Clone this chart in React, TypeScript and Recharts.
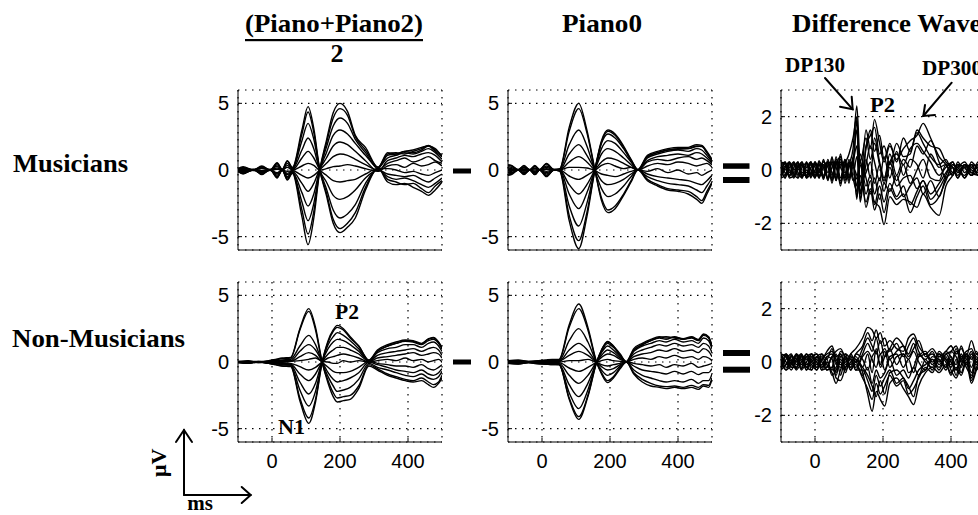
import React from 'react';
import { LineChart, Line, XAxis, YAxis, CartesianGrid } from 'recharts';

// Butterfly plots: 12 channels per panel, times in ms, values in µV

// Musicians, (Piano+Piano2)/2
const musAvgTime = [-100, -85, -55, -30, -5, 15, 30, 45, 60, 88, 106, 123, 140, 160, 180, 200, 222, 245, 275, 312, 340, 365, 390, 415, 440, 460, 480, 500];
const musAvgTraces = [
  [0.1, 0.25, 0, 0.3, 0, 0.55, 0.05, 0.7, 0.2, 3.0, 4.75, 3.1, 0.1, -1.9, -4.0, -4.7, -4.3, -3.6, -1.5, 0.15, -0.9, -1.1, -1.0, -1.3, -1.6, -1.9, -1.5, -0.9],
  [0.05, 0.2, -0.05, 0.25, 0, 0.5, 0, 0.65, 0.15, 2.7, 4.35, 2.8, 0.05, -1.7, -3.7, -4.4, -4.0, -3.2, -1.3, 0.1, -0.7, -0.9, -1.1, -1.0, -1.4, -1.7, -1.2, -0.8],
  [0.08, 0.15, 0.05, 0.2, -0.05, 0.4, 0.05, 0.5, 0.1, 2.2, 3.5, 2.3, 0.1, -1.4, -3.0, -3.6, -3.3, -2.6, -1.0, 0.05, -0.5, -0.7, -0.6, -0.8, -1.1, -1.3, -1.0, -0.6],
  [0, 0.1, 0, 0.15, 0, 0.3, -0.05, 0.35, 0.05, 1.5, 2.4, 1.6, 0, -0.9, -1.9, -2.2, -2.0, -1.5, -0.6, 0, -0.3, -0.4, -0.5, -0.4, -0.7, -0.9, -0.6, -0.3],
  [-0.05, 0.05, 0, 0.1, 0.05, 0.15, 0, 0.2, 0, 0.9, 1.4, 0.9, 0.05, -0.4, -0.8, -0.9, -0.8, -0.7, -0.3, 0.1, 0.1, 0, -0.2, -0.1, -0.3, -0.4, -0.2, 0],
  [0, -0.05, 0, -0.05, 0, 0.05, 0, -0.1, -0.05, 0.3, 0.5, 0.35, 0, 0.1, 0.25, 0.3, 0.4, 0.3, 0.1, -0.1, 0.3, 0.4, 0.2, 0.5, 0.3, 0.4, 0.6, 0.3],
  [-0.05, -0.1, 0, -0.1, 0, -0.2, 0, -0.25, -0.05, -0.4, -0.6, -0.4, 0, 0.5, 1.0, 1.2, 1.1, 0.8, 0.4, 0, 0.5, 0.7, 0.9, 0.6, 0.8, 1.0, 0.7, 0.5],
  [-0.08, -0.15, 0.05, -0.15, 0, -0.3, 0.05, -0.35, -0.1, -1.0, -1.6, -1.0, 0.05, 0.9, 1.8, 2.1, 1.9, 1.4, 0.7, -0.1, 0.7, 0.9, 1.1, 1.0, 1.2, 1.3, 1.1, 0.6],
  [-0.1, -0.2, 0, -0.2, 0.05, -0.4, 0, -0.5, -0.15, -1.7, -2.7, -1.8, 0, 1.3, 2.6, 3.0, 2.7, 2.0, 1.1, 0.2, 0.9, 1.1, 1.3, 1.2, 1.4, 1.6, 1.3, 0.8],
  [-0.05, -0.25, 0, -0.25, 0, -0.5, -0.05, -0.6, -0.2, -2.4, -3.8, -2.5, -0.05, 1.7, 3.3, 3.9, 3.5, 2.3, 1.3, 0.1, 1.1, 1.2, 1.4, 1.3, 1.5, 1.8, 1.4, 1.0],
  [-0.1, -0.25, 0, -0.3, 0, -0.55, 0, -0.7, -0.2, -3.0, -4.8, -3.1, -0.1, 2.0, 3.9, 4.6, 4.1, 2.5, 1.5, 0.2, 1.2, 1.3, 1.2, 1.4, 1.6, 1.85, 1.5, 1.1],
  [-0.1, -0.3, 0.05, -0.35, 0.05, -0.6, 0.05, -0.75, -0.25, -3.5, -5.6, -3.6, -0.1, 2.2, 4.3, 5.0, 4.4, 2.6, 1.7, 0.2, 1.3, 1.2, 1.4, 1.5, 1.7, 1.8, 1.6, 1.0],
];

// Musicians, Piano0
const musP0Time = [-100, -90, -70, -53, -36, -21, -7, 13, 35, 52, 80, 108, 132, 155, 175, 194, 215, 240, 262, 282, 310, 340, 370, 400, 430, 455, 470, 485, 500];
const musP0Traces = [
  [0.4, 0.35, 0, 0.35, 0, 0.35, 0, 0.5, 0.05, 0.1, 3.2, 5.0, 3.0, 0.1, -2.3, -3.2, -2.9, -1.9, -0.9, 0, -0.8, -1.2, -1.5, -1.6, -1.8, -2.2, -2.5, -1.8, -1.0],
  [0.35, 0.3, 0.05, 0.3, 0, 0.3, 0.05, 0.45, 0, 0.05, 2.9, 4.6, 2.8, 0.05, -2.1, -3.0, -2.7, -1.8, -0.8, 0.05, -0.7, -1.1, -1.4, -1.5, -1.6, -2.0, -2.3, -1.6, -0.9],
  [0.25, 0.2, 0, 0.2, 0.05, 0.25, 0, 0.3, 0.05, 0.05, 1.9, 3.0, 1.8, 0, -1.4, -2.0, -1.8, -1.2, -0.5, 0, -0.5, -0.8, -1.0, -1.1, -1.2, -1.5, -1.7, -1.2, -0.6],
  [0.15, 0.1, 0, 0.15, 0, 0.15, 0, 0.2, 0, 0, 1.2, 1.9, 1.1, 0.05, -0.8, -1.1, -1.0, -0.7, -0.3, 0, -0.3, -0.5, -0.6, -0.7, -0.8, -1.0, -1.1, -0.8, -0.4],
  [0.05, 0.05, 0, 0.05, 0, 0.1, 0, 0.1, 0, 0, 0.6, 1.0, 0.6, 0, -0.3, -0.4, -0.5, -0.3, -0.1, 0, -0.1, 0.1, -0.2, 0, -0.3, -0.2, -0.4, -0.2, 0],
  [0, 0, 0, 0, 0, 0, 0, 0.05, 0, 0, 0.2, 0.2, 0.15, 0, 0.35, 0.5, 0.3, 0.1, 0.2, 0, 0.3, 0.5, 0.4, 0.6, 0.5, 0.3, 0.4, 0.5, 0.2],
  [-0.05, -0.05, 0, -0.05, 0, -0.1, 0, -0.1, 0, 0, -0.45, -0.7, -0.4, 0, 0.6, 0.9, 0.8, 0.5, 0.2, 0, 0.6, 0.8, 0.7, 0.9, 1.0, 0.8, 0.9, 0.7, 0.4],
  [-0.15, -0.1, 0, -0.1, 0, -0.15, 0, -0.2, 0, 0, -1.1, -1.8, -1.1, 0, 1.2, 1.6, 1.4, 0.9, 0.4, 0, 0.7, 1.0, 1.1, 1.2, 1.1, 1.3, 1.2, 0.9, 0.5],
  [-0.2, -0.2, 0, -0.2, 0, -0.2, 0, -0.3, 0, 0, -1.8, -2.9, -1.7, 0, 1.6, 2.2, 2.0, 1.3, 0.6, 0, 0.9, 1.2, 1.4, 1.5, 1.4, 1.6, 1.5, 1.1, 0.6],
  [-0.3, -0.25, 0, -0.25, 0, -0.3, 0, -0.4, 0, -0.05, -2.7, -4.2, -2.5, -0.05, 2.0, 2.7, 2.4, 1.6, 0.7, 0, 1.0, 1.3, 1.5, 1.6, 1.6, 1.8, 1.75, 1.3, 0.7],
  [-0.35, -0.3, 0, -0.3, 0, -0.35, 0, -0.45, 0, -0.05, -3.4, -5.3, -3.2, -0.05, 2.2, 3.0, 2.7, 1.8, 0.8, 0.05, 1.1, 1.4, 1.6, 1.7, 1.7, 1.9, 1.85, 1.4, 0.8],
  [-0.4, -0.35, 0, -0.35, 0, -0.35, 0, -0.5, 0, -0.1, -3.8, -5.9, -3.5, -0.1, 2.1, 2.9, 2.6, 1.7, 0.75, 0, 1.0, 1.3, 1.5, 1.55, 1.6, 1.75, 1.8, 1.3, 0.75],
];

// Musicians, difference wave
const musDiffTime = [-100, -88, -75, -62, -50, -38, -25, -12, 0, 12, 25, 38, 50, 62, 75, 88, 100, 112, 123, 133, 150, 163, 175, 190, 203, 220, 240, 260, 280, 300, 318, 340, 365, 385, 405, 420, 440, 460, 480, 500];
const musDiffTraces = [
  [0.3, -0.2, 0.25, -0.1, 0.3, -0.2, 0.2, -0.3, 0.3, -0.25, 0.4, -0.3, 0.5, -0.4, 0.6, -0.3, 0.2, 0.8, 2.4, 0.3, 1.2, 0.4, 1.0, 0.2, -0.5, 0.3, 0.6, 0.2, 0.8, 1.0, 0.7, 0.3, -0.2, 0.1, 0.3, -0.1, 0.2, -0.2, 0.3, 0],
  [-0.2, 0.3, -0.1, 0.25, -0.3, 0.2, -0.25, 0.3, -0.2, 0.35, -0.3, 0.4, -0.2, 0.3, -0.5, 0.2, 0.6, 1.2, 2.0, -0.6, 1.5, 0.8, 1.9, 1.0, 0.3, 0.9, 0.4, 0.8, 1.1, 1.3, 1.75, 1.2, 0.5, 0.2, -0.2, 0.3, -0.1, 0.2, -0.2, 0.1],
  [0.1, -0.3, 0.2, -0.25, 0.15, -0.3, 0.3, -0.15, 0.25, -0.3, 0.2, -0.4, 0.45, -0.2, 0.5, -0.5, 0.1, 0.4, 1.5, -1.1, 0.9, 1.3, 1.6, 0.6, 0.9, 0.2, 1.0, 0.5, 0.6, 1.5, 1.2, 0.9, 0.8, 0.3, 0.1, -0.3, 0.2, 0.1, -0.1, 0.2],
  [-0.3, 0.15, -0.25, 0.3, -0.2, 0.25, -0.1, 0.2, -0.3, 0.2, -0.35, 0.3, -0.4, 0.5, -0.3, 0.4, -0.2, 0.3, 0.9, -1.2, 0.4, -0.3, 1.2, 0.3, -0.4, 0.6, -0.2, 0.4, 0.1, 0.9, 0.6, 1.1, 0.3, -0.3, 0.2, 0.1, -0.3, 0.3, 0, -0.1],
  [0.2, 0, 0.3, -0.2, 0.1, 0.3, -0.3, 0.1, 0.2, -0.1, 0.3, 0.1, -0.3, 0.4, 0.1, -0.2, 0.3, -0.2, 0.5, -0.8, 0.2, 0.9, 0.3, -0.4, 0.5, -0.3, 0.7, -0.2, 0.4, 0.2, -0.3, 0.6, 0.1, 0.2, -0.2, 0.2, 0.1, -0.2, 0.2, -0.1],
  [-0.1, 0.25, 0, -0.3, 0.2, -0.1, 0.1, 0.3, -0.1, 0.2, -0.2, 0.3, 0.2, -0.3, 0.2, 0.3, -0.3, 0.1, -0.2, -0.5, -0.1, 0.3, -0.5, 0.2, -0.3, 0.3, -0.4, 0.2, -0.5, 0, 0.4, -0.3, -0.4, 0.2, 0.1, -0.2, 0.2, 0, -0.1, 0.1],
  [0.25, -0.1, -0.2, 0.1, 0.3, -0.25, 0, -0.2, 0.3, 0, -0.25, 0.2, -0.1, -0.3, 0.4, -0.1, 0.2, -0.4, -0.3, 0.3, -0.6, -0.2, -0.9, -0.3, -0.8, 0.1, -0.6, -0.3, -0.2, -0.7, -0.4, -0.9, -0.5, -0.1, 0.2, 0, -0.2, 0.2, 0.1, -0.1],
  [-0.25, 0.1, 0.3, -0.15, -0.3, 0.1, 0.25, 0, -0.3, 0.3, 0.1, -0.3, 0.3, 0.1, -0.4, 0.2, -0.4, 0.2, -0.6, 0.6, -0.3, -0.9, -0.3, -1.1, -0.5, -0.8, -0.2, -1.0, -0.6, -0.3, -0.9, -0.4, -1.0, -0.3, -0.1, 0.2, 0.1, -0.2, 0, 0.2],
  [0.15, 0.3, -0.2, 0.2, 0, 0.3, -0.2, 0.25, 0.1, -0.3, 0.35, -0.1, 0.3, -0.4, 0.3, -0.3, 0.4, -0.3, -0.8, 0.2, -0.9, -0.4, -1.3, -0.6, -1.2, -0.5, -1.0, -0.6, -1.3, -0.8, -0.4, -1.1, -0.7, -0.2, 0.3, -0.1, 0.1, 0.2, -0.2, 0],
  [-0.3, -0.2, 0.1, 0.3, -0.1, -0.3, 0.3, -0.25, 0, 0.25, -0.3, 0.3, -0.5, 0.3, -0.5, 0.4, -0.3, 0.4, -1.0, -0.2, -1.2, -0.7, -1.5, -0.9, -1.6, -0.7, -1.1, -0.9, -1.6, -1.0, -0.6, -1.3, -1.0, -0.4, 0.1, -0.3, 0.2, -0.1, 0.1, -0.2],
  [0, -0.3, 0.25, 0, 0.25, -0.2, -0.2, 0.3, -0.25, 0, 0.2, -0.35, 0.1, 0.35, -0.6, 0.3, -0.5, 0.5, -1.1, 0.4, -1.4, -0.8, -1.2, -1.4, -2.05, -1.0, -1.3, -1.1, -1.2, -1.4, -0.9, -1.4, -1.7, -0.6, -0.2, 0.2, -0.3, 0.1, 0.2, -0.1],
  [0.3, 0.2, -0.3, -0.2, 0.1, 0.2, -0.3, -0.1, 0.3, -0.2, 0.1, 0.3, -0.4, 0.2, 0.5, -0.4, 0.3, 0.2, 1.9, -0.9, 0.8, 1.5, 0.7, 1.3, 0.4, 1.0, 0.3, 1.2, 0.7, 1.4, 1.0, 0.5, 0.2, 0.4, -0.1, 0.1, 0.3, -0.1, -0.2, 0.1],
];

// Non-Musicians, (Piano+Piano2)/2
const nonAvgTime = [-100, -70, -40, -10, 10, 30, 55, 82, 108, 128, 147, 165, 180, 192, 210, 230, 255, 285, 310, 340, 365, 392, 415, 440, 460, 475, 490, 500];
const nonAvgTraces = [
  [0.05, 0.1, -0.05, 0.1, 0.2, 0.3, 0.35, 2.5, 4.0, 2.6, 0.05, -1.6, -2.6, -3.0, -2.9, -2.8, -2.0, -0.3, -0.6, -1.0, -1.2, -1.4, -1.5, -1.4, -1.7, -1.9, -1.6, -1.2],
  [0, 0.05, 0.05, 0.05, 0.15, 0.25, 0.3, 2.4, 3.8, 2.4, 0, -1.4, -2.3, -2.7, -2.6, -2.5, -1.8, -0.2, -0.5, -0.9, -1.1, -1.3, -1.4, -1.2, -1.5, -1.7, -1.5, -1.0],
  [0.05, 0, 0, 0.05, 0.1, 0.15, 0.2, 1.2, 2.0, 1.3, 0, -1.1, -1.8, -2.2, -2.1, -1.9, -1.3, -0.1, -0.4, -0.6, -0.8, -1.0, -1.1, -0.9, -1.2, -1.3, -1.1, -0.7],
  [0, 0.05, -0.05, 0, 0.05, 0.1, 0.1, 0.8, 1.3, 0.9, 0.05, -0.8, -1.3, -1.5, -1.4, -1.2, -0.8, 0, -0.2, -0.4, -0.6, -0.7, -0.8, -0.6, -0.9, -1.0, -0.8, -0.5],
  [0, 0, 0, 0.05, 0, 0.05, 0.05, 0.4, 0.7, 0.5, 0, -0.4, -0.7, -0.8, -0.8, -0.7, -0.4, 0.05, -0.1, -0.2, -0.3, -0.3, -0.4, -0.2, -0.5, -0.6, -0.4, -0.2],
  [0, 0, 0, 0, 0, 0, 0.05, 0.1, 0.2, 0.3, 0.05, 0, -0.1, -0.1, 0.1, 0, 0.1, 0, 0.1, 0.2, 0.1, 0.3, 0.1, 0.2, 0, 0.1, 0.2, 0],
  [0, -0.05, 0, 0, -0.05, -0.05, -0.1, -0.35, -0.6, -0.4, 0, 0.3, 0.4, 0.5, 0.6, 0.5, 0.3, 0, 0.3, 0.4, 0.5, 0.6, 0.7, 0.5, 0.6, 0.7, 0.6, 0.3],
  [-0.05, 0, 0, -0.05, -0.1, -0.1, -0.15, -0.9, -1.4, -0.9, 0, 0.6, 0.9, 1.1, 1.1, 0.9, 0.6, 0.05, 0.5, 0.7, 0.8, 0.9, 1.0, 0.8, 1.0, 1.1, 0.9, 0.5],
  [0, -0.05, 0, -0.05, -0.1, -0.15, -0.2, -1.5, -2.4, -1.6, 0, 1.0, 1.5, 1.7, 1.6, 1.3, 0.8, 0.1, 0.7, 1.0, 1.1, 1.3, 1.3, 1.1, 1.4, 1.5, 1.2, 0.8],
  [-0.05, -0.1, 0, -0.1, -0.15, -0.2, -0.25, -2.1, -3.3, -2.2, -0.05, 1.3, 1.9, 2.2, 2.0, 1.6, 1.0, 0.1, 0.8, 1.2, 1.4, 1.55, 1.5, 1.3, 1.6, 1.7, 1.4, 1.0],
  [0, -0.1, 0.05, -0.1, -0.2, -0.3, -0.3, -2.7, -4.2, -2.8, -0.05, 1.5, 2.3, 2.6, 2.4, 1.8, 1.2, 0.15, 0.9, 1.3, 1.5, 1.65, 1.6, 1.4, 1.7, 1.85, 1.5, 1.1],
  [-0.05, -0.1, 0, -0.1, -0.2, -0.3, -0.35, -2.9, -4.6, -3.0, -0.1, 1.6, 2.4, 2.75, 2.5, 1.9, 1.2, 0.1, 0.8, 1.2, 1.4, 1.6, 1.55, 1.35, 1.75, 1.8, 1.45, 1.0],
];

// Non-Musicians, Piano0
const nonP0Time = [-100, -70, -40, -10, 10, 30, 50, 80, 108, 135, 160, 175, 193, 210, 230, 248, 270, 295, 320, 345, 365, 390, 415, 440, 460, 475, 490, 500];
const nonP0Traces = [
  [0.1, 0.15, 0.05, 0.1, 0.15, 0.2, 0.2, 2.8, 4.35, 2.6, 0.05, -0.9, -1.55, -1.2, -0.5, 0, -0.9, -1.5, -1.8, -1.9, -2.0, -1.9, -2.0, -1.9, -2.05, -1.8, -1.9, -1.3],
  [0.05, 0.1, 0, 0.1, 0.1, 0.15, 0.15, 2.6, 4.0, 2.4, 0, -0.8, -1.4, -1.1, -0.4, 0, -0.8, -1.3, -1.6, -1.8, -1.85, -1.8, -1.9, -1.75, -1.9, -1.7, -1.75, -1.2],
  [0.05, 0.1, 0.05, 0.05, 0.1, 0.1, 0.1, 1.6, 2.5, 1.5, 0, -0.6, -1.0, -0.8, -0.3, 0, -0.6, -1.0, -1.2, -1.4, -1.5, -1.4, -1.5, -1.3, -1.6, -1.4, -1.4, -0.9],
  [0, 0.05, 0, 0.05, 0.05, 0.05, 0.05, 0.9, 1.4, 0.85, 0, -0.35, -0.6, -0.5, -0.2, 0, -0.3, -0.6, -0.7, -0.8, -0.9, -0.7, -0.9, -0.7, -0.95, -0.8, -0.8, -0.5],
  [0, 0, 0, 0, 0.05, 0, 0.05, 0.5, 0.8, 0.5, 0, -0.2, -0.3, -0.2, -0.1, 0, -0.1, -0.2, -0.3, -0.2, -0.4, -0.2, -0.3, -0.1, -0.4, -0.3, -0.2, -0.1],
  [0, 0, 0, 0, 0, 0, 0, 0.1, 0.1, 0.2, 0, 0.1, 0.2, 0.1, 0.05, 0, 0.2, 0.3, 0.2, 0.4, 0.3, 0.5, 0.3, 0.4, 0.2, 0.4, 0.3, 0.1],
  [0, -0.05, 0, -0.05, 0, -0.05, -0.05, -0.45, -0.7, -0.4, 0, 0.35, 0.6, 0.5, 0.2, 0, 0.4, 0.6, 0.7, 0.9, 0.8, 1.0, 0.8, 0.9, 0.7, 1.0, 0.8, 0.4],
  [-0.05, -0.05, 0, -0.05, -0.05, -0.1, -0.1, -1.0, -1.6, -1.0, 0, 0.5, 0.9, 0.7, 0.3, 0, 0.6, 0.9, 1.1, 1.3, 1.2, 1.4, 1.2, 1.3, 1.1, 1.4, 1.2, 0.7],
  [-0.05, -0.1, 0, -0.1, -0.1, -0.1, -0.15, -1.7, -2.6, -1.6, -0.05, 0.7, 1.2, 0.9, 0.4, 0, 0.8, 1.2, 1.4, 1.6, 1.5, 1.7, 1.5, 1.6, 1.4, 1.8, 1.6, 1.0],
  [-0.1, -0.1, -0.05, -0.1, -0.15, -0.15, -0.2, -2.3, -3.5, -2.1, -0.05, 0.8, 1.4, 1.1, 0.5, 0, 0.9, 1.3, 1.6, 1.8, 1.7, 1.9, 1.7, 1.8, 1.6, 2.0, 1.8, 1.1],
  [-0.1, -0.15, -0.05, -0.1, -0.15, -0.2, -0.2, -2.7, -4.1, -2.5, -0.05, 0.9, 1.5, 1.2, 0.5, 0.05, 1.0, 1.4, 1.7, 1.9, 1.8, 1.85, 1.75, 1.9, 1.7, 2.1, 1.9, 1.2],
  [-0.1, -0.15, -0.05, -0.15, -0.15, -0.2, -0.2, -2.8, -4.3, -2.6, -0.1, 0.9, 1.55, 1.2, 0.6, 0, 0.9, 1.3, 1.6, 1.85, 1.9, 1.8, 1.7, 1.85, 1.65, 2.05, 1.85, 1.15],
];

// Non-Musicians, difference wave
const nonDiffTime = [-100, -85, -70, -55, -40, -25, -10, 5, 20, 35, 50, 62, 75, 90, 105, 120, 140, 155, 168, 180, 192, 205, 220, 240, 260, 275, 290, 305, 325, 345, 365, 385, 400, 415, 430, 445, 460, 475, 490, 500];
const nonDiffTraces = [
  [0.3, -0.1, 0.25, 0, 0.3, -0.1, 0.2, 0.3, 0.1, 0.4, 0.6, 0.2, 0.3, -0.1, 0.3, 0.5, 0.9, 1.3, 1.2, 0.9, 1.1, 0.6, 0.8, 0.5, 0.4, 0.9, 1.05, 0.6, 0.3, 0.5, 0.2, 0.4, 0.6, 0.3, 0.5, 0.2, 0.8, 0.3, 0.4, 0.2],
  [-0.2, 0.3, -0.1, 0.25, -0.2, 0.3, 0, -0.2, 0.3, 0.1, 0.5, -0.1, 0.4, 0.2, -0.1, 0.3, 0.6, 1.1, 0.8, 1.2, 0.7, 0.9, 0.4, 0.7, 0.2, 0.6, 0.9, 0.4, 0.1, 0.4, -0.1, 0.3, 0.4, 0.6, 0.2, 0.4, 0.5, 0.1, 0.3, 0],
  [0.1, -0.3, 0.2, -0.2, 0.1, -0.3, 0.3, 0, -0.2, 0.2, 0.3, 0, -0.2, 0.3, 0.1, -0.2, 0.3, 0.7, 0.4, 0.9, 0.3, 0.5, 0.1, 0.4, 0.6, 0.3, 0.7, 0.2, 0.3, -0.1, 0.3, 0.1, -0.2, 0.4, 0.1, -0.1, 0.3, 0, 0.2, 0.1],
  [-0.3, 0.2, -0.2, 0.3, -0.1, 0.2, -0.3, 0.2, 0, -0.3, -0.2, -0.5, 0.1, -0.2, 0.2, 0.1, -0.2, 0.3, -0.4, 0.5, -0.2, 0.2, 0.5, -0.1, 0.3, 0.1, 0.4, 0, -0.3, 0.2, 0.1, -0.2, 0.2, -0.3, 0.1, 0.3, -0.4, 0.2, -0.1, 0],
  [0.2, 0, -0.3, 0.1, 0.3, -0.2, 0.1, -0.3, 0.2, -0.1, -0.4, -0.8, -0.3, 0.1, -0.3, 0, -0.5, -0.2, -0.8, -0.3, -0.6, -0.4, 0.1, -0.5, -0.3, -0.6, -0.2, -0.5, 0.1, -0.3, 0.2, 0, -0.5, 0.1, -0.4, 0.1, -0.6, 0, -0.2, 0.1],
  [-0.1, 0.25, 0.1, -0.3, 0, 0.3, -0.2, 0.1, -0.3, 0.2, 0.1, -0.6, -0.7, -0.2, 0.1, -0.3, -0.3, -0.7, -1.1, -0.5, -0.9, -0.6, -0.3, -0.8, -0.6, -1.0, -0.7, -0.3, -0.1, 0.1, -0.3, 0.2, -0.3, -0.6, -0.1, 0.2, -0.7, -0.2, 0.1, -0.1],
  [0.25, -0.2, 0, 0.2, -0.3, 0, 0.3, -0.1, 0.1, -0.3, -0.2, 0.3, -0.5, 0.2, -0.2, -0.1, -0.6, -1.0, -1.4, -0.8, -1.2, -0.9, -0.5, -0.9, -0.7, -1.2, -1.0, -0.6, -0.2, -0.4, 0.1, -0.3, 0.1, -0.5, 0.2, -0.2, -0.5, 0.1, -0.2, 0],
  [-0.25, 0.1, 0.3, -0.1, 0.2, -0.3, 0.1, 0.3, -0.2, 0, -0.3, -0.2, 0.3, -0.3, 0, 0.2, -0.4, -1.2, -1.85, -1.1, -1.4, -1.65, -0.8, -0.6, -1.0, -1.3, -1.6, -0.9, -0.4, -0.2, -0.4, -0.1, -0.4, -0.2, -0.5, 0, -0.8, -0.3, 0, -0.2],
  [0, -0.3, -0.1, 0.3, 0.1, -0.2, -0.3, 0.2, 0.3, -0.2, 0.2, -0.4, 0.2, 0.3, -0.3, 0.1, -0.2, -0.5, -0.9, -1.3, -0.7, -1.2, -0.4, -0.3, -0.6, -0.9, -1.3, -0.5, -0.3, 0.1, -0.2, 0.3, 0, -0.3, 0.3, -0.1, 0.2, -0.3, 0.1, -0.1],
  [0.3, 0.2, -0.2, -0.2, 0.25, 0.1, -0.1, -0.3, 0.1, 0.3, 0.4, 0.1, -0.1, 0, 0.2, -0.3, 0.2, 0.4, 0.1, -0.2, 0.3, -0.3, 0.2, 0.3, -0.2, 0.1, -0.4, 0.2, 0.4, 0, 0.3, -0.2, 0.4, 0.2, -0.2, 0.3, 0.1, 0.4, -0.2, 0.1],
  [-0.3, -0.1, 0.2, 0.1, -0.25, 0.2, 0.3, -0.2, -0.1, 0.1, -0.5, -0.3, 0, -0.4, 0.3, 0, 0.5, 0.9, 0.6, 0.3, 0.8, 0.2, 0.5, 0.9, 0.6, 0.2, 0.5, 0.8, 0.2, 0.3, 0, 0.4, 0.2, -0.1, 0.6, 0.1, 0.4, -0.1, 0.2, -0.2],
  [0.15, 0.3, 0, -0.25, 0.2, -0.1, 0, 0.2, -0.3, -0.2, 0.2, 0.4, 0.5, 0.1, -0.2, 0.3, 0.1, -0.3, 0.2, 0.4, -0.1, 0.4, -0.2, 0.2, 0.3, -0.4, -0.2, 0.3, 0, -0.2, 0.4, 0.1, -0.1, 0.5, 0, 0.3, -0.2, 0.3, 0.1, 0],
];

const timeTicks = [0, 200, 400];
const erpTicks = [-5, 0, 5];
const diffTicks = [-2, 0, 2];

const sans = '"Liberation Sans", Arial, Helvetica, sans-serif';
const serif = '"Liberation Serif", "Times New Roman", Times, serif';

const PLOT_W = 204;
const PLOT_H = 160;
const Y_AXIS_W = 50;

type PanelProps = {
  left: number;
  top: number;
  time: number[];
  traces: number[][];
  yDomain: [number, number];
  yTicks: number[];
  showX: boolean;
};

const Panel = ({ left, top, time, traces, yDomain, yTicks, showX }: PanelProps) => {
  const rows = time.map((t, i) => {
    const row: Record<string, number> = { t };
    traces.forEach((tr, k) => {
      row[`c${k}`] = tr[i];
    });
    return row;
  });
  const xH = showX ? 40 : 5;
  const tickStyle = { fontSize: 20, fill: '#000', fontFamily: sans };

  return (
    <div style={{ position: 'absolute', left: left - Y_AXIS_W, top: top - 5 }}>
      <LineChart
        width={Y_AXIS_W + PLOT_W + 5}
        height={5 + PLOT_H + xH}
        data={rows}
        margin={{ top: 5, right: 5, left: 0, bottom: 0 }}
      >
        <CartesianGrid stroke="#000" strokeWidth={1.2} strokeDasharray="1.5 5.5" />
        <XAxis
          dataKey="t"
          type="number"
          domain={[-100, 500]}
          ticks={timeTicks}
          allowDataOverflow
          height={xH}
          interval={0}
          tick={showX ? tickStyle : false}
          tickSize={-4}
          tickMargin={16}
          axisLine={{ stroke: '#000' }}
          tickLine={{ stroke: '#000' }}
        />
        <XAxis
          xAxisId="top"
          orientation="top"
          dataKey="t"
          type="number"
          domain={[-100, 500]}
          ticks={timeTicks}
          allowDataOverflow
          height={0}
          tick={false}
          tickSize={-4}
          axisLine={{ stroke: '#000' }}
          tickLine={{ stroke: '#000' }}
        />
        <YAxis
          type="number"
          domain={yDomain}
          ticks={yTicks}
          allowDataOverflow
          width={Y_AXIS_W}
          interval={0}
          tick={tickStyle}
          tickSize={-4}
          tickMargin={13}
          axisLine={{ stroke: '#000' }}
          tickLine={{ stroke: '#000' }}
        />
        <YAxis
          yAxisId="right"
          orientation="right"
          type="number"
          domain={yDomain}
          ticks={yTicks}
          allowDataOverflow
          width={0}
          tick={false}
          tickSize={-4}
          axisLine={{ stroke: '#000' }}
          tickLine={{ stroke: '#000' }}
        />
        {traces.map((_, k) => (
          <Line
            key={k}
            dataKey={`c${k}`}
            type="monotone"
            stroke="#000"
            strokeWidth={1.4}
            dot={false}
            activeDot={false}
            isAnimationActive={false}
          />
        ))}
      </LineChart>
    </div>
  );
};

const Arrow = ({ x1, y1, x2, y2, w1, w2 }: { x1: number; y1: number; x2: number; y2: number; w1: [number, number]; w2: [number, number] }) => (
  <g stroke="#000" strokeWidth={2} fill="none" strokeLinecap="round">
    <line x1={x1} y1={y1} x2={x2} y2={y2} />
    <polyline points={`${w1[0]},${w1[1]} ${x2},${y2} ${w2[0]},${w2[1]}`} />
  </g>
);

export default function App() {
  return (
    <div style={{ position: 'absolute', left: 0, top: 0, width: 978, height: 515, overflow: 'hidden', background: '#fff' }}>
      <Panel left={238} top={90} time={musAvgTime} traces={musAvgTraces} yDomain={[-6, 6]} yTicks={erpTicks} showX={false} />
      <Panel left={508} top={90} time={musP0Time} traces={musP0Traces} yDomain={[-6, 6]} yTicks={erpTicks} showX={false} />
      <Panel left={781} top={90} time={musDiffTime} traces={musDiffTraces} yDomain={[-3, 3]} yTicks={diffTicks} showX={false} />
      <Panel left={238} top={282} time={nonAvgTime} traces={nonAvgTraces} yDomain={[-6, 6]} yTicks={erpTicks} showX />
      <Panel left={508} top={282} time={nonP0Time} traces={nonP0Traces} yDomain={[-6, 6]} yTicks={erpTicks} showX />
      <Panel left={781} top={282} time={nonDiffTime} traces={nonDiffTraces} yDomain={[-3, 3]} yTicks={diffTicks} showX />

      <svg width={978} height={515} style={{ position: 'absolute', left: 0, top: 0 }}>
        <g fontFamily={serif} fontWeight="bold" fill="#000">
          <text x={245} y={31.7} fontSize={26} textLength={178} lengthAdjust="spacingAndGlyphs">(Piano+Piano2)</text>
          <text x={337} y={62} fontSize={26} textAnchor="middle">2</text>
          <text x={562} y={31.7} fontSize={26} textLength={80} lengthAdjust="spacingAndGlyphs">Piano0</text>
          <text x={792} y={31.7} fontSize={26} textLength={200} lengthAdjust="spacingAndGlyphs">Difference Waves</text>
          <text x={13} y={171.7} fontSize={26} textLength={115} lengthAdjust="spacingAndGlyphs">Musicians</text>
          <text x={12} y={346.7} fontSize={26} textLength={173} lengthAdjust="spacingAndGlyphs">Non-Musicians</text>
          <text x={785} y={71.7} fontSize={20} textLength={60} lengthAdjust="spacingAndGlyphs">DP130</text>
          <text x={922} y={75} fontSize={20} textLength={60} lengthAdjust="spacingAndGlyphs">DP300</text>
          <text x={870} y={111.7} fontSize={21} textLength={25} lengthAdjust="spacingAndGlyphs">P2</text>
          <text x={335} y={318.7} fontSize={21} textLength={24} lengthAdjust="spacingAndGlyphs">P2</text>
          <text x={278} y={433.7} fontSize={22} textLength={27} lengthAdjust="spacingAndGlyphs">N1</text>
          <text transform="translate(166,477) rotate(-90)" fontSize={22}>μV</text>
          <text x={200} y={510} fontSize={21} textAnchor="middle">ms</text>
        </g>
        <rect x={245} y={39} width={178} height={2.2} fill="#000" />

        {/* minus and equals signs between panels */}
        <rect x={453} y={168.5} width={18} height={5} fill="#000" />
        <rect x={453} y={359.5} width={18} height={5} fill="#000" />
        <rect x={723} y={163.3} width={26.5} height={5.5} fill="#000" />
        <rect x={723} y={177} width={26.5} height={6} fill="#000" />
        <rect x={723} y={350} width={27} height={6} fill="#000" />
        <rect x={723} y={366.7} width={27} height={6} fill="#000" />

        <Arrow x1={825} y1={78} x2={852.7} y2={109.3} w1={[840, 106.7]} w2={[851.7, 96.7]} />
        <Arrow x1={951.7} y1={82.7} x2={923.3} y2={116} w1={[925, 105]} w2={[935, 115]} />

        {/* scale indicator */}
        <Arrow x1={184} y1={495} x2={184} y2={430} w1={[176, 442]} w2={[192, 442]} />
        <Arrow x1={184} y1={495} x2={250.7} y2={495} w1={[241.7, 487]} w2={[241.7, 503]} />
      </svg>
    </div>
  );
}
